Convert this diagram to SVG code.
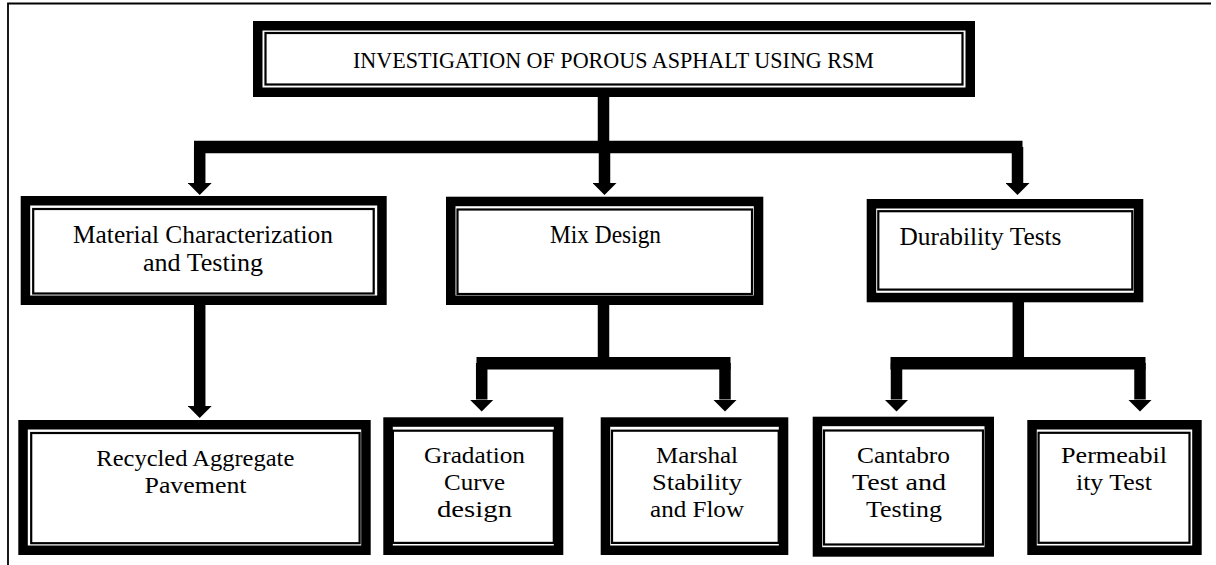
<svg xmlns="http://www.w3.org/2000/svg" width="1216" height="565" viewBox="0 0 1216 565">
<style>
.outer{fill:#fff;stroke:#000;stroke-width:9.5}
.inner{fill:none;stroke:#000;stroke-width:2.2}
.lbl{font-family:"Liberation Serif","Times New Roman",serif;fill:#000;text-anchor:middle}
.t1{font-size:24px}
.t2{font-size:25px}
.t3{font-size:23.5px}
.conn{fill:none;stroke:#000;stroke-width:11.5;stroke-linejoin:miter;stroke-linecap:butt}
.bar{fill:none;stroke:#000;stroke-width:12.5}
</style>
<defs>
<marker id="ah" viewBox="0 0 12 24" refX="0" refY="12" markerWidth="12" markerHeight="24" markerUnits="userSpaceOnUse" orient="auto">
<path d="M0,0 L12,12 L0,24 Z" fill="#000"/>
</marker>
</defs>
<rect width="1216" height="565" fill="#fff"/>
<g id="frame" fill="none" stroke="#000" stroke-width="1.8">
<path d="M8,565 V3.5 H1211"/>
</g>
<g id="connectors">
<path class="conn" d="M603.5,97 V147"/>
<path class="bar" d="M194,147 H1022.5"/>
<path class="conn" d="M199.7,147 V183" marker-end="url(#ah)"/>
<path class="conn" d="M604.5,147 V183" marker-end="url(#ah)"/>
<path class="conn" d="M1017.5,147 V183" marker-end="url(#ah)"/>
<path class="conn" d="M199.7,305 V406" marker-end="url(#ah)"/>
<path class="conn" d="M603.5,305 V363"/>
<path class="bar" d="M476.5,363.3 H730.5"/>
<path class="conn" d="M481.7,363 V399.5" marker-end="url(#ah)"/>
<path class="conn" d="M725,363 V399.5" marker-end="url(#ah)"/>
<path class="conn" d="M1018.3,302 V363"/>
<path class="bar" d="M890.5,363.3 H1145.5"/>
<path class="conn" d="M896.5,363 V399.5" marker-end="url(#ah)"/>
<path class="conn" d="M1140,363 V399.5" marker-end="url(#ah)"/>
</g>
<g id="n-title">
<rect class="outer" x="257.75" y="25.75" width="712.5" height="66.5"/>
<rect class="inner" x="265.5" y="33" width="697" height="51.5"/>
<text class="lbl t1" x="613.5" y="68" textLength="521" lengthAdjust="spacingAndGlyphs">INVESTIGATION OF POROUS ASPHALT USING RSM</text>
</g>
<g id="n-material">
<rect class="outer" x="25.45" y="200.75" width="356.5" height="99.5"/>
<rect class="inner" x="33.2" y="209" width="340.5" height="84.5"/>
<text class="lbl t2" x="203" y="243.3" textLength="260" lengthAdjust="spacingAndGlyphs">Material Characterization</text>
<text class="lbl t2" x="203" y="270.7" textLength="120" lengthAdjust="spacingAndGlyphs">and Testing</text>
</g>
<g id="n-mix">
<rect class="outer" x="450.75" y="201.45" width="307.8" height="98.8"/>
<rect class="inner" x="457.5" y="209.5" width="294.5" height="84.5"/>
<text class="lbl t2" x="605.5" y="243.3" textLength="111" lengthAdjust="spacingAndGlyphs">Mix Design</text>
</g>
<g id="n-durability">
<rect class="outer" x="871.45" y="203.75" width="267.1" height="93.8"/>
<rect class="inner" x="878.3" y="211.2" width="254" height="78.4"/>
<text class="lbl t2" x="980.5" y="245" textLength="162" lengthAdjust="spacingAndGlyphs">Durability Tests</text>
</g>
<g id="n-recycled">
<rect class="outer" x="23.05" y="424.75" width="342.9" height="125.5"/>
<rect class="inner" x="31.2" y="433" width="328.4" height="110.2"/>
<text class="lbl t3" x="195.3" y="466" textLength="198" lengthAdjust="spacingAndGlyphs">Recycled Aggregate</text>
<text class="lbl t3" x="195.5" y="493.3" textLength="102" lengthAdjust="spacingAndGlyphs">Pavement</text>
</g>
<g id="n-gradation">
<rect class="outer" x="388.05" y="422.05" width="170.5" height="128.2"/>
<rect class="inner" x="392.9" y="430.7" width="160.9" height="112.2"/>
<text class="lbl t3" x="474.5" y="463.3" textLength="101" lengthAdjust="spacingAndGlyphs">Gradation</text>
<text class="lbl t3" x="474.5" y="490" textLength="61" lengthAdjust="spacingAndGlyphs">Curve</text>
<text class="lbl t3" x="474.5" y="516.7" textLength="75" lengthAdjust="spacingAndGlyphs">design</text>
</g>
<g id="n-marshal">
<rect class="outer" x="605.45" y="422.05" width="178.1" height="128.2"/>
<rect class="inner" x="612" y="430.7" width="166.7" height="112.2"/>
<text class="lbl t3" x="697" y="463.3" textLength="82" lengthAdjust="spacingAndGlyphs">Marshal</text>
<text class="lbl t3" x="697" y="490" textLength="90" lengthAdjust="spacingAndGlyphs">Stability</text>
<text class="lbl t3" x="697" y="516.7" textLength="94" lengthAdjust="spacingAndGlyphs">and Flow</text>
</g>
<g id="n-cantabro">
<rect class="outer" x="817.45" y="421.45" width="171.8" height="130.5"/>
<rect class="inner" x="824" y="430.5" width="159" height="114"/>
<text class="lbl t3" x="903.5" y="462.7" textLength="93" lengthAdjust="spacingAndGlyphs">Cantabro</text>
<text class="lbl t3" x="899" y="490" textLength="94" lengthAdjust="spacingAndGlyphs">Test and</text>
<text class="lbl t3" x="904" y="517.3" textLength="76" lengthAdjust="spacingAndGlyphs">Testing</text>
</g>
<g id="n-permeability">
<rect class="outer" x="1032.05" y="424.75" width="164.9" height="125.5"/>
<rect class="inner" x="1038.6" y="432.8" width="150.9" height="110"/>
<text class="lbl t3" x="1114" y="463.3" textLength="106" lengthAdjust="spacingAndGlyphs">Permeabil</text>
<text class="lbl t3" x="1114" y="490" textLength="76" lengthAdjust="spacingAndGlyphs">ity Test</text>
</g>
</svg>
